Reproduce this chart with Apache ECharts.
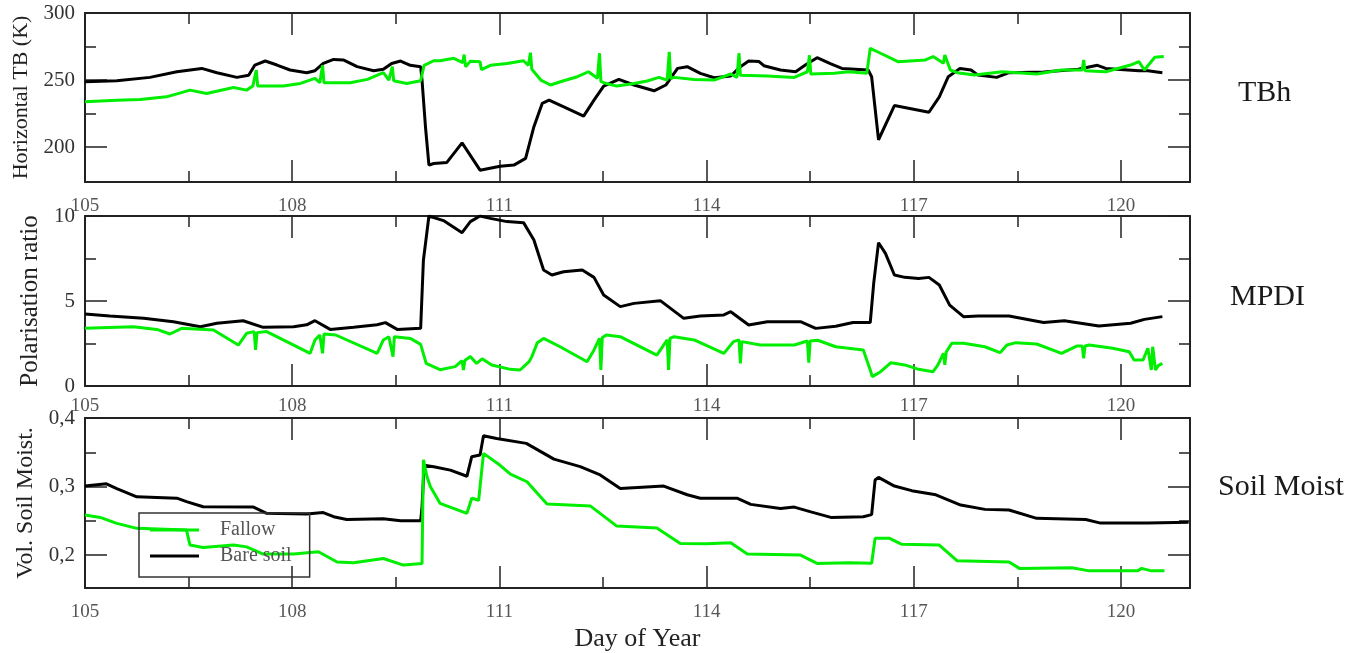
<!DOCTYPE html>
<html>
<head>
<meta charset="utf-8">
<title>TBh / MPDI / Soil Moist</title>
<script src="https://cdn.jsdelivr.net/npm/echarts@6/dist/echarts.min.js"></script>
<style>
  html, body { margin: 0; padding: 0; background: #fff; }
  #chart { width: 1350px; height: 653px; }
</style>
</head>
<body>
<div id="chart"></div>
<script>
// ticks
const dayTicks = [105, 108, 111, 114, 117, 120]
const dayMinorTicks = [106.5, 109.5, 112.5, 115.5, 118.5]
const tbhTicks = [200, 250, 300]
const tbhMinorTicks = [225, 275]
const mpdiTicks = [0, 5, 10]
const mpdiMinorTicks = [2.5, 7.5]
const smTicks = [0.2, 0.3, 0.4]
const smMinorTicks = [0.25, 0.35]

const panelNames = ['TBh', 'MPDI', 'Soil Moist']
const yNames = ['Horizontal TB (K)', 'Polarisation ratio', 'Vol. Soil Moist.']
const seriesNames = ['Fallow', 'Bare soil']

// [day, value]
const tbhBare = [[105.0, 248.7], [105.46, 249.5], [105.94, 252], [106.33, 256.2], [106.69, 258.7], [106.91, 255.5],
  [107.2, 252], [107.37, 253.6], [107.46, 261.2], [107.61, 264.2], [107.78, 261.2], [107.97, 257.5], [108.21, 255.5],
  [108.33, 257], [108.45, 262.4], [108.6, 265.4], [108.74, 265], [108.94, 260], [109.18, 257], [109.32, 258],
  [109.44, 262.4], [109.57, 264.2], [109.71, 261], [109.86, 260], [109.88, 250], [109.93, 215], [109.98, 186.6],
  [110.05, 187.8], [110.24, 188.6], [110.46, 203.2], [110.72, 182.8], [111.01, 185.8], [111.21, 186.6], [111.38, 191.6],
  [111.5, 215.2], [111.62, 232.6], [111.72, 235], [111.98, 228.9], [112.22, 223.1], [112.37, 235], [112.51, 245.5],
  [112.73, 250.5], [112.95, 246.3], [113.24, 242], [113.41, 246.3], [113.58, 258.7], [113.72, 260], [113.91, 255],
  [114.11, 251.7], [114.35, 253], [114.49, 260], [114.61, 264.2], [114.76, 263.8], [114.83, 260.7], [115.07, 257.5],
  [115.29, 256.2], [115.43, 261.2], [115.6, 266.7], [115.8, 262], [115.96, 258.7], [116.34, 257.5], [116.39, 252.5],
  [116.49, 205.5], [116.72, 231], [117.22, 226], [117.37, 237.5], [117.5, 252.5], [117.67, 258.7], [117.83, 257.5],
  [117.93, 253.7], [118.2, 252], [118.38, 255.5], [118.88, 256], [119.38, 258], [119.66, 261], [119.78, 258.7],
  [120.26, 257], [120.39, 257], [120.6, 255.5]]

const tbhFallow = [[105.0, 233.8], [105.46, 235], [105.8, 235.5], [106.18, 237.5], [106.52, 242.5], [106.76, 240],
  [107.15, 244.5], [107.34, 242.5], [107.43, 245.5], [107.48, 257.5], [107.5, 245.5], [107.87, 245.5], [108.12, 247.5],
  [108.33, 251.3], [108.4, 248], [108.44, 261], [108.46, 248], [108.84, 248], [109.09, 250.5], [109.32, 255.5],
  [109.4, 250], [109.45, 260], [109.47, 249.5], [109.66, 247.5], [109.86, 249.5], [109.91, 261], [110.05, 264.4],
  [110.14, 264.4], [110.34, 266.2], [110.47, 263], [110.49, 269], [110.51, 260], [110.58, 264], [110.72, 263.7],
  [110.74, 257.8], [110.87, 261], [111.11, 262.4], [111.35, 264.4], [111.42, 261], [111.45, 270.4], [111.47, 258],
  [111.5, 256.2], [111.6, 250], [111.74, 246.3], [111.93, 249.5], [112.13, 252.5], [112.29, 256.2], [112.42, 251.3],
  [112.45, 270], [112.47, 249], [112.51, 248], [112.7, 245.5], [112.95, 247.5], [113.14, 249.3], [113.31, 252],
  [113.43, 250], [113.46, 271], [113.48, 251], [113.53, 252], [113.82, 250.5], [114.11, 250], [114.35, 254.5],
  [114.44, 252], [114.47, 270], [114.49, 253.5], [114.88, 253], [115.27, 252], [115.46, 256.2], [115.49, 268.5],
  [115.51, 254.5], [115.85, 255], [116.06, 256.2], [116.32, 255], [116.37, 273.7], [116.52, 270], [116.77, 263.7],
  [117.17, 265], [117.28, 267.5], [117.43, 262.5], [117.45, 268.7], [117.53, 257.5], [117.63, 255.5], [117.88, 253.7],
  [118.28, 256.2], [118.78, 254.5], [119.14, 257.5], [119.44, 257.5], [119.46, 265], [119.48, 257], [119.78, 256.2],
  [120.14, 261.2], [120.26, 263.7], [120.34, 257.5], [120.49, 267], [120.62, 267.5]]

const mpdiBare = [[105.0, 4.24], [105.36, 4.12], [105.85, 3.98], [106.28, 3.78], [106.67, 3.49], [106.91, 3.69],
  [107.29, 3.84], [107.58, 3.45], [108.02, 3.49], [108.21, 3.6], [108.33, 3.84], [108.55, 3.33], [108.89, 3.45],
  [109.23, 3.6], [109.35, 3.73], [109.52, 3.33], [109.86, 3.39], [109.9, 7.4], [109.98, 10], [110.19, 9.73],
  [110.46, 9.02], [110.58, 9.67], [110.72, 10], [110.87, 9.86], [111.11, 9.67], [111.35, 9.61], [111.5, 8.59],
  [111.64, 6.82], [111.76, 6.53], [111.93, 6.72], [112.2, 6.82], [112.37, 6.39], [112.51, 5.35], [112.75, 4.67],
  [112.95, 4.86], [113.33, 5.02], [113.67, 3.98], [113.91, 4.12], [114.25, 4.18], [114.35, 4.37], [114.61, 3.59],
  [114.88, 3.78], [115.36, 3.78], [115.58, 3.39], [115.87, 3.51], [116.12, 3.73], [116.37, 3.73], [116.42, 6.04],
  [116.49, 8.43], [116.59, 7.8], [116.72, 6.53], [116.87, 6.39], [117.07, 6.33], [117.22, 6.39], [117.37, 5.94],
  [117.52, 4.76], [117.72, 4.08], [117.93, 4.12], [118.38, 4.12], [118.88, 3.73], [119.18, 3.84], [119.68, 3.53],
  [120.14, 3.69], [120.34, 3.92], [120.6, 4.08]]

const mpdiFallow = [[105.0, 3.39], [105.7, 3.49], [106.04, 3.33], [106.23, 3.06], [106.4, 3.39], [106.86, 3.29],
  [107.22, 2.41], [107.34, 3.1], [107.45, 3.2], [107.47, 2.12], [107.49, 3.14], [107.63, 3.2], [107.87, 2.71],
  [108.26, 1.92], [108.33, 2.71], [108.4, 3.0], [108.44, 1.92], [108.46, 3.06], [108.63, 3.0], [109.23, 1.92],
  [109.32, 2.71], [109.4, 2.9], [109.46, 1.73], [109.48, 2.9], [109.71, 2.8], [109.86, 2.45], [109.94, 1.33],
  [110.14, 0.96], [110.36, 1.14], [110.46, 1.49], [110.48, 0.94], [110.5, 1.5], [110.58, 1.73], [110.67, 1.33],
  [110.75, 1.6], [110.89, 1.24], [111.16, 0.98], [111.3, 0.94], [111.43, 1.43], [111.47, 1.73], [111.55, 2.55],
  [111.64, 2.8], [111.88, 2.31], [112.27, 1.43], [112.37, 2.12], [112.45, 2.8], [112.47, 0.94], [112.49, 2.85],
  [112.55, 3.0], [112.75, 2.9], [113.28, 1.82], [113.43, 2.71], [113.45, 0.94], [113.47, 2.8], [113.53, 2.9],
  [113.82, 2.71], [114.25, 1.92], [114.39, 2.61], [114.47, 2.71], [114.49, 1.33], [114.51, 2.61], [114.78, 2.41],
  [115.27, 2.41], [115.46, 2.65], [115.48, 1.37], [115.5, 2.65], [115.61, 2.69], [115.87, 2.31], [116.27, 2.12],
  [116.37, 0.94], [116.4, 0.55], [116.52, 0.84], [116.67, 1.37], [116.87, 1.24], [117.07, 0.98], [117.28, 0.84],
  [117.35, 1.24], [117.43, 1.92], [117.45, 1.24], [117.47, 2.0], [117.55, 2.51], [117.72, 2.51], [118.03, 2.31],
  [118.25, 1.96], [118.35, 2.41], [118.48, 2.55], [118.78, 2.47], [119.14, 1.92], [119.36, 2.35], [119.44, 2.35],
  [119.46, 1.63], [119.48, 2.35], [119.54, 2.41], [119.88, 2.22], [120.12, 2.02], [120.19, 1.53], [120.32, 1.53],
  [120.39, 2.22], [120.44, 0.94], [120.46, 2.31], [120.5, 0.94], [120.54, 1.2], [120.6, 1.33]]

const smBare = [[105.0, 0.3007], [105.31, 0.304], [105.46, 0.297], [105.75, 0.285], [106.33, 0.283], [106.47, 0.278],
  [106.71, 0.2705], [107.44, 0.27], [107.63, 0.261], [108.21, 0.26], [108.45, 0.262], [108.6, 0.256], [108.79, 0.252],
  [109.32, 0.253], [109.57, 0.25], [109.86, 0.25], [109.88, 0.27], [109.91, 0.331], [110.05, 0.329], [110.29, 0.324],
  [110.53, 0.315], [110.6, 0.3435], [110.72, 0.346], [110.77, 0.374], [110.96, 0.37], [111.39, 0.363], [111.79, 0.34],
  [112.17, 0.329], [112.46, 0.317], [112.75, 0.297], [113.38, 0.3007], [113.72, 0.288], [113.91, 0.283], [114.44, 0.283],
  [114.64, 0.274], [115.07, 0.268], [115.27, 0.27], [115.51, 0.263], [115.8, 0.255], [116.27, 0.256], [116.39, 0.259],
  [116.44, 0.3095], [116.49, 0.3134], [116.72, 0.3007], [116.97, 0.294], [117.32, 0.288], [117.68, 0.273],
  [118.03, 0.2667], [118.38, 0.2657], [118.78, 0.2536], [119.49, 0.252], [119.69, 0.247], [120.39, 0.247], [120.98, 0.248]]

const smFallow = [[105.0, 0.2584], [105.22, 0.255], [105.46, 0.2463], [105.75, 0.239], [106.47, 0.2365], [106.52, 0.2146],
  [106.71, 0.2112], [107.15, 0.2146], [107.34, 0.212], [107.58, 0.2015], [108.02, 0.2015], [108.38, 0.2048], [108.65, 0.19],
  [108.89, 0.1888], [109.32, 0.195], [109.61, 0.1854], [109.88, 0.1878], [109.9, 0.339], [109.95, 0.315], [110.0, 0.3],
  [110.14, 0.2755], [110.53, 0.261], [110.6, 0.283], [110.7, 0.28], [110.77, 0.3484], [111.01, 0.331], [111.16, 0.3182],
  [111.4, 0.307], [111.69, 0.2745], [112.32, 0.2715], [112.7, 0.2423], [113.28, 0.2394], [113.62, 0.217], [114.0, 0.2165],
  [114.35, 0.218], [114.59, 0.2015], [115.36, 0.2], [115.6, 0.1878], [116.06, 0.1888], [116.39, 0.188], [116.44, 0.2244],
  [116.65, 0.2244], [116.82, 0.216], [117.37, 0.2146], [117.63, 0.1917], [118.38, 0.19], [118.53, 0.1806], [119.29, 0.1815],
  [119.54, 0.177], [120.24, 0.177], [120.3, 0.1806], [120.44, 0.177], [120.63, 0.177]]

const FONT = '"Liberation Serif", "Times New Roman", serif'
const INK = '#222'
const GREEN = '#00ee00'

const grids = [
  { left: 85, right: 160, top: 13, height: 169 },
  { left: 85, right: 160, top: 216, height: 170 },
  { left: 85, right: 160, top: 418, height: 170 }
]
const yRanges = [[174, 300], [0, 10], [0.152, 0.4]]
const yMajor = [tbhTicks, mpdiTicks, smTicks]
const yMinor = [tbhMinorTicks, mpdiMinorTicks, smMinorTicks]
const yNameGap = [52, 40, 43]
const yNameSize = [22, 25, 24]
const xLabelMargin = [15, 11, 15]

function tick (vals, len) {
  return { show: true, inside: true, length: len, customValues: vals, lineStyle: { color: INK, width: 1.5 } }
}
function border (show) {
  return { show, onZero: false, lineStyle: { color: INK, width: 2 } }
}

const xAxis = []
const yAxis = []
grids.forEach((g, i) => {
  const xb = { type: 'value', gridIndex: i, min: 105, max: 121, splitLine: { show: false } }
  xAxis.push(
    Object.assign({}, xb, {
      position: 'bottom',
      axisLine: border(true),
      axisTick: tick(dayTicks, 22),
      axisLabel: { customValues: dayTicks, margin: xLabelMargin[i], color: '#555', fontSize: 19, fontFamily: FONT },
      name: i === 2 ? 'Day of Year' : '',
      nameLocation: 'middle',
      nameGap: 38,
      nameTextStyle: { fontFamily: FONT, fontSize: 26, color: '#222' }
    }),
    Object.assign({}, xb, { position: 'bottom', axisLine: border(false), axisTick: tick(dayMinorTicks, 11), axisLabel: { show: false } }),
    Object.assign({}, xb, { position: 'top', axisLine: border(true), axisTick: tick(dayTicks, 22), axisLabel: { show: false } }),
    Object.assign({}, xb, { position: 'top', axisLine: border(false), axisTick: tick(dayMinorTicks, 11), axisLabel: { show: false } })
  )
  const yb = { type: 'value', gridIndex: i, min: yRanges[i][0], max: yRanges[i][1], splitLine: { show: false } }
  yAxis.push(
    Object.assign({}, yb, {
      position: 'left',
      axisLine: border(true),
      axisTick: tick(yMajor[i], 22),
      axisLabel: {
        customValues: yMajor[i], margin: 10, color: '#333', fontSize: 21, fontFamily: FONT,
        formatter: i === 2 ? (v) => v.toFixed(1).replace('.', ',') : null
      },
      name: yNames[i],
      nameLocation: 'middle',
      nameGap: yNameGap[i],
      nameTextStyle: { fontFamily: FONT, fontSize: yNameSize[i], color: '#222' }
    }),
    Object.assign({}, yb, { position: 'left', axisLine: border(false), axisTick: tick(yMinor[i], 11), axisLabel: { show: false } }),
    Object.assign({}, yb, { position: 'right', axisLine: border(true), axisTick: tick(yMajor[i], 22), axisLabel: { show: false } }),
    Object.assign({}, yb, { position: 'right', axisLine: border(false), axisTick: tick(yMinor[i], 11), axisLabel: { show: false } })
  )
})

function line (name, data, g, color) {
  return {
    type: 'line', name, data,
    xAxisIndex: g * 4, yAxisIndex: g * 4,
    symbol: 'none', showSymbol: false,
    lineStyle: { color, width: 3 }, itemStyle: { color }
  }
}

const series = [
  line('Bare soil', tbhBare, 0, '#000'), line('Fallow', tbhFallow, 0, GREEN),
  line('Bare soil', mpdiBare, 1, '#000'), line('Fallow', mpdiFallow, 1, GREEN),
  line('Bare soil', smBare, 2, '#000'), line('Fallow', smFallow, 2, GREEN)
]

const titleLeft = [1238, 1230, 1218]
const titleTop = [78, 282, 472]

const chart = echarts.init(document.getElementById('chart'))
chart.setOption({
  animation: false,
  backgroundColor: '#fff',
  title: panelNames.map((t, i) => ({
    text: t, left: titleLeft[i], top: titleTop[i], padding: 0,
    textStyle: { fontFamily: FONT, fontSize: 30, fontWeight: 'normal', color: '#1a1a1a' }
  })),
  legend: {
    data: seriesNames,
    orient: 'vertical',
    left: 139, top: 513,
    padding: [7, 18, 11, 11],
    itemGap: 6, itemWidth: 49, itemHeight: 3,
    icon: 'rect',
    borderColor: '#333', borderWidth: 1.5,
    textStyle: { fontFamily: FONT, fontSize: 20, color: '#555', padding: [0, 0, 0, 16] }
  },
  grid: grids,
  xAxis,
  yAxis,
  series
})
</script>
</body>
</html>
